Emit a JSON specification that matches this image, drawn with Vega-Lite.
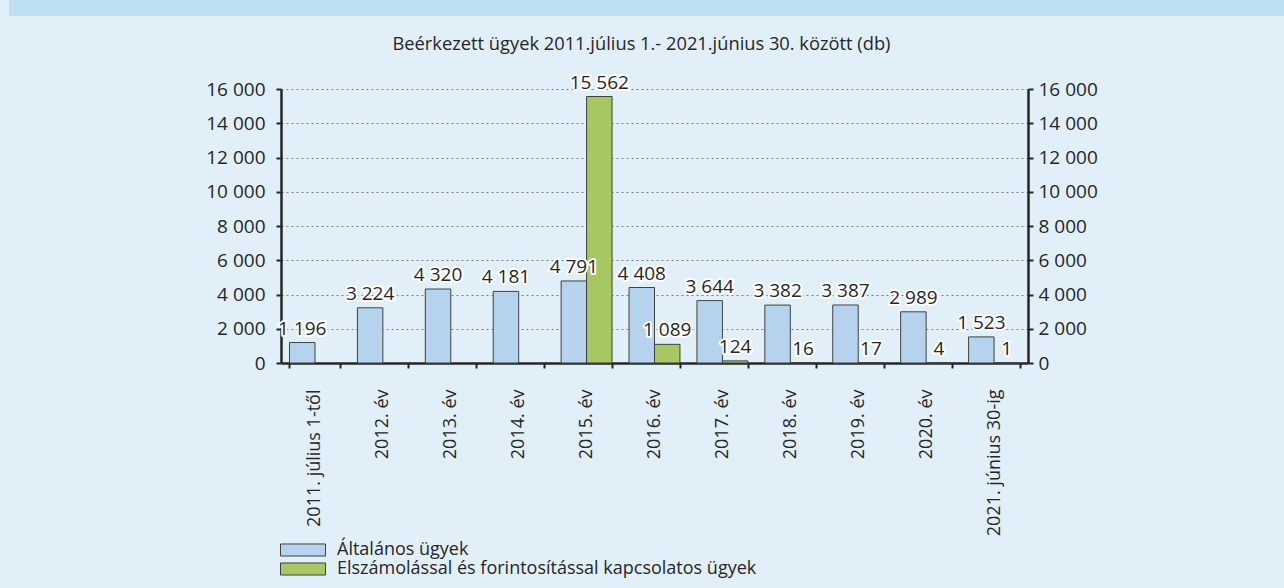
{
  "$schema": "https://vega.github.io/schema/vega-lite/v6.json",
  "background": "#e1f0f8",
  "padding": {"left": 9, "right": 0, "top": 0, "bottom": 12},
  "config": {
    "font": "Open Sans",
    "locale": {"number": {"decimal": ",", "thousands": "\u00a0", "grouping": [3], "currency": ["", ""]}},
    "view": {"stroke": null}
  },
  "spacing": 19,
  "vconcat": [
    {
      "width": 1275,
      "height": 16,
      "view": {"fill": "#bde0f2", "stroke": null},
      "data": {"values": [{"t": ""}]},
      "mark": {"type": "text"},
      "encoding": {"text": {"field": "t", "type": "nominal"}}
    },
    {
      "spacing": 0,
      "hconcat": [
        {
          "width": 196,
          "height": 1,
          "view": {"fill": null, "stroke": null},
          "data": {"values": [{"t": ""}]},
          "mark": {"type": "text"},
          "encoding": {"text": {"field": "t", "type": "nominal"}}
        },
        {
          "width": 747,
          "height": 274,
          "title": {
            "text": "Beérkezett ügyek 2011.július 1.- 2021.június 30. között  (db)",
            "fontSize": 18.3,
            "fontWeight": "normal",
            "color": "#262626",
            "offset": 19,
            "dx": -13
          },
          "data": {
            "values": [
              {"ev": "2011. július 1-től", "tipus": "Általános ügyek", "db": 1196},
              {"ev": "2012. év", "tipus": "Általános ügyek", "db": 3224},
              {"ev": "2013. év", "tipus": "Általános ügyek", "db": 4320},
              {"ev": "2014. év", "tipus": "Általános ügyek", "db": 4181},
              {"ev": "2015. év", "tipus": "Általános ügyek", "db": 4791},
              {"ev": "2015. év", "tipus": "Elszámolással és forintosítással kapcsolatos ügyek", "db": 15562},
              {"ev": "2016. év", "tipus": "Általános ügyek", "db": 4408},
              {"ev": "2016. év", "tipus": "Elszámolással és forintosítással kapcsolatos ügyek", "db": 1089},
              {"ev": "2017. év", "tipus": "Általános ügyek", "db": 3644},
              {"ev": "2017. év", "tipus": "Elszámolással és forintosítással kapcsolatos ügyek", "db": 124},
              {"ev": "2018. év", "tipus": "Általános ügyek", "db": 3382},
              {"ev": "2018. év", "tipus": "Elszámolással és forintosítással kapcsolatos ügyek", "db": 16},
              {"ev": "2019. év", "tipus": "Általános ügyek", "db": 3387},
              {"ev": "2019. év", "tipus": "Elszámolással és forintosítással kapcsolatos ügyek", "db": 17},
              {"ev": "2020. év", "tipus": "Általános ügyek", "db": 2989},
              {"ev": "2020. év", "tipus": "Elszámolással és forintosítással kapcsolatos ügyek", "db": 4},
              {"ev": "2021.  június 30-ig", "tipus": "Általános ügyek", "db": 1523},
              {"ev": "2021.  június 30-ig", "tipus": "Elszámolással és forintosítással kapcsolatos ügyek", "db": 1}
            ]
          },
          "encoding": {
            "x": {
              "field": "ev",
              "type": "nominal",
              "sort": null,
              "scale": {"paddingInner": 0.25, "paddingOuter": 0.125},
              "axis": {
                "title": null,
                "labelAngle": -90,
                "labelFontSize": 18,
                "labelColor": "#262626",
                "labelPadding": 21,
                "tickBand": "extent",
                "tickSize": 5,
                "tickWidth": 2,
                "tickColor": "#262626",
                "domainColor": "#262626",
                "domainWidth": 2.5,
                "grid": false
              }
            },
            "xOffset": {
              "field": "tipus",
              "type": "nominal",
              "scale": {"domain": ["Általános ügyek", "Elszámolással és forintosítással kapcsolatos ügyek"], "paddingInner": 0, "paddingOuter": 0}
            }
          },
          "layer": [
            {
              "mark": {"type": "bar", "stroke": "#404040", "strokeWidth": 1},
              "encoding": {
                "y": {
                  "field": "db",
                  "type": "quantitative",
                  "scale": {"domain": [0, 16000], "nice": false},
                  "axis": {
                    "title": null,
                    "orient": "left",
                    "values": [0, 2000, 4000, 6000, 8000, 10000, 12000, 14000, 16000],
                    "format": ",d",
                    "labelFontSize": 19,
                    "labelColor": "#262626",
                    "labelPadding": 11,
                    "tickSize": 5,
                    "tickWidth": 2,
                    "tickColor": "#262626",
                    "domainColor": "#262626",
                    "domainWidth": 2.5,
                    "grid": true,
                    "gridColor": "#7f7f7f",
                    "gridDash": [2, 3],
                    "gridWidth": 1
                  }
                },
                "color": {
                  "field": "tipus",
                  "type": "nominal",
                  "scale": {
                    "domain": ["Általános ügyek", "Elszámolással és forintosítással kapcsolatos ügyek"],
                    "range": ["#b6d3ee", "#a7c763"]
                  },
                  "legend": {
                    "orient": "none",
                    "legendX": 285,
                    "legendY": 541,
                    "direction": "vertical",
                    "title": null,
                    "labelFontSize": 18,
                    "labelColor": "#262626",
                    "labelLimit": 700,
                    "symbolType": "M-4,-1.07H4V1.07H-4Z",
                    "symbolSize": 126.5625,
                    "symbolStrokeColor": "#404040",
                    "symbolStrokeWidth": 1,
                    "symbolOpacity": 1,
                    "rowPadding": 1,
                    "labelOffset": 25
                  }
                }
              }
            },
            {
              "mark": {"type": "text", "baseline": "alphabetic", "dy": -8, "fontSize": 19, "stroke": "white", "strokeWidth": 4, "strokeJoin": "round", "fill": "white"},
              "encoding": {
                "y": {
                  "field": "db",
                  "type": "quantitative",
                  "axis": {
                    "title": null,
                    "orient": "right",
                    "values": [0, 2000, 4000, 6000, 8000, 10000, 12000, 14000, 16000],
                    "format": ",d",
                    "labelFontSize": 19,
                    "labelColor": "#262626",
                    "labelPadding": 5,
                    "tickSize": 5,
                    "tickWidth": 2,
                    "tickColor": "#262626",
                    "domainColor": "#262626",
                    "domainWidth": 2.5,
                    "grid": false
                  }
                },
                "text": {"field": "db", "type": "quantitative", "format": ",d"}
              }
            },
            {
              "mark": {"type": "text", "baseline": "alphabetic", "dy": -8, "fontSize": 19, "fill": "#262626"},
              "encoding": {
                "y": {"field": "db", "type": "quantitative", "axis": null},
                "text": {"field": "db", "type": "quantitative", "format": ",d"}
              }
            }
          ],
          "resolve": {"axis": {"y": "independent"}}
        }
      ]
    }
  ]
}
